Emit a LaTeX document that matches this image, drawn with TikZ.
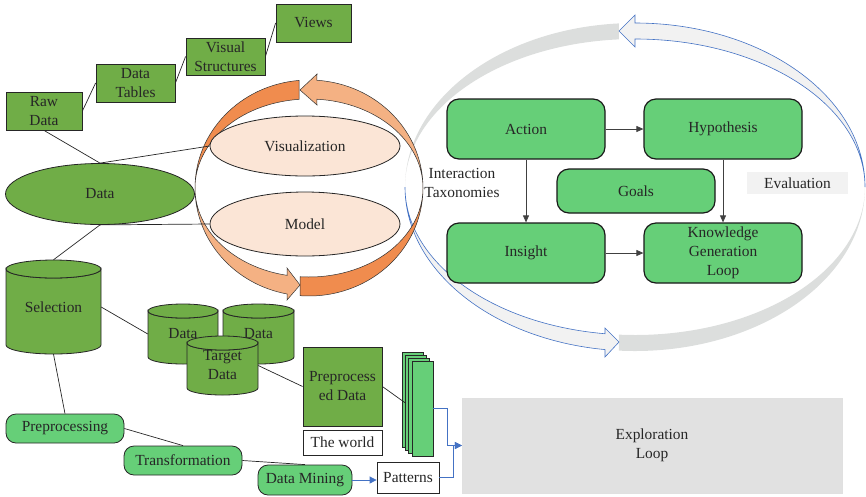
\documentclass[tikz,border=0pt]{standalone}
\usepackage{fontspec}
\setmainfont{Liberation Serif}
\usetikzlibrary{arrows.meta,calc,shapes.geometric}
\definecolor{midgreen}{RGB}{112,173,71}
\definecolor{lgreen}{RGB}{102,207,120}
\definecolor{peach}{RGB}{251,229,214}
\definecolor{odark}{RGB}{240,140,78}
\definecolor{olight}{RGB}{244,177,131}
\definecolor{gdark}{RGB}{220,222,221}
\definecolor{glight}{RGB}{242,242,242}
\definecolor{bline}{RGB}{68,114,196}
\definecolor{explgrey}{RGB}{225,225,225}
\definecolor{txt}{RGB}{38,38,38}
\tikzset{
 lbl/.style={font=\fontsize{15.4}{19}\selectfont, text=txt, align=center, inner sep=0pt},
 gbox/.style={lbl, draw=txt, fill=midgreen, line width=0.8pt},
 rbox/.style={lbl, draw=black!90, fill=lgreen, rounded corners=12pt, line width=1.2pt, minimum width=158pt, minimum height=60pt},
 pill/.style={lbl, draw=black!85, fill=lgreen, rounded corners=10pt, line width=0.8pt, minimum height=29pt},
 conn/.style={draw=black!85, line width=0.7pt},
 flow/.style={draw=black!75, line width=0.8pt, -{Triangle[length=7pt,width=6pt]}},
 bflow/.style={draw=bline, line width=0.8pt, -{Triangle[length=7pt,width=7pt]}},
 cylsty/.style={draw=txt, fill=midgreen, line width=0.8pt},
 stk/.style={draw=black!85, fill=lgreen, line width=0.7pt, minimum width=21pt, minimum height=95pt, inner sep=0pt, anchor=north west},
 oband/.style={draw=black!80, line width=0.5pt},
}
\newcommand\drawcyl[5]{%
 \pgfmathsetmacro\cylcx{(#1+#2)/2}%
 \pgfmathsetmacro\cylrx{(#2-#1)/2}%
 \filldraw[cylsty] (#1,#3+#5) -- (#1,#4-#5) arc[start angle=180,end angle=0,x radius=\cylrx,y radius=#5] -- (#2,#3+#5) arc[start angle=0,end angle=180,x radius=\cylrx,y radius=#5] -- cycle;
 \filldraw[cylsty] (\cylcx,#3+#5) ellipse[x radius=\cylrx, y radius=#5];
}
\begin{document}
\begin{tikzpicture}[x=1pt,y=-1pt]
\useasboundingbox (0,0) rectangle (866,496);

% grey exploration/knowledge loop ribbon
\begin{scope}[shift={(635,187)}]
 \fill[gdark] (-94:230 and 164) arc[start angle=-94,end angle=-180,x radius=230,y radius=164] arc[start angle=-180,end angle=-94,x radius=230,y radius=148] -- cycle;
 \fill[gdark] (94:230 and 164) arc[start angle=94,end angle=0,x radius=230,y radius=164] arc[start angle=0,end angle=94,x radius=230,y radius=148] -- cycle;
 \filldraw[fill=glight, draw=bline, line width=0.6pt] (-90:230 and 164) arc[start angle=-90,end angle=0,x radius=230,y radius=164] arc[start angle=0,end angle=-90,x radius=230,y radius=148] -- (0,-140) -- (-16,-156) -- (0,-172) -- cycle;
 \filldraw[fill=glight, draw=bline, line width=0.6pt] (180:230 and 164) arc[start angle=180,end angle=97.5,x radius=230,y radius=164] -- (-30,170) -- (-16,155) -- (-30,141) -- (97.5:230 and 148) arc[start angle=97.5,end angle=180,x radius=230,y radius=148] -- cycle;
\end{scope}

% orange ring
\begin{scope}[shift={(309,188)}]
 \filldraw[fill=odark, oband] (-95:114 and 108) arc[start angle=-95,end angle=-180,x radius=114,y radius=108] arc[start angle=-180,end angle=-95,x radius=114,y radius=89] -- cycle;
 \filldraw[fill=odark, oband] (94.5:114 and 108) arc[start angle=94.5,end angle=0,x radius=114,y radius=108] arc[start angle=0,end angle=94.5,x radius=114,y radius=89] -- cycle;
 \filldraw[fill=olight, oband] (-86:114 and 108) arc[start angle=-86,end angle=0,x radius=114,y radius=108] arc[start angle=0,end angle=-86,x radius=114,y radius=89] -- (8,-83) -- (-9,-98) -- (8,-114) -- cycle;
 \filldraw[fill=olight, oband] (180:114 and 108) arc[start angle=180,end angle=101,x radius=114,y radius=108] -- (-22,112) -- (-9,97) -- (-22,80) -- (101:114 and 89) arc[start angle=101,end angle=180,x radius=114,y radius=89] -- cycle;
\end{scope}

% top-left chain
\node[gbox, minimum width=76pt, minimum height=38pt] (raw) at (44,111) {Raw\\Data};
\node[gbox, minimum width=79pt, minimum height=38pt] (tables) at (135.5,83) {Data\\Tables};
\node[gbox, minimum width=79pt, minimum height=37pt] (vis) at (225.5,56.5) {Visual\\Structures};
\node[gbox, minimum width=75pt, minimum height=38pt] (views) at (313.5,23) {Views};

\node[lbl, ellipse, draw=txt, fill=midgreen, line width=0.8pt, minimum width=189pt, minimum height=61pt] (data) at (100,194) {Data};
\node[lbl, ellipse, draw=txt, fill=peach, line width=0.8pt, minimum width=190pt, minimum height=60pt] (viz) at (305,146) {Visualization};
\node[lbl, ellipse, draw=txt, fill=peach, line width=0.8pt, minimum width=190pt, minimum height=64pt] (model) at (305,224) {Model};

% cylinders
\drawcyl{6}{101}{260}{354}{9}
\node[lbl, minimum width=95pt, minimum height=94pt] (sel) at (53.5,307) {Selection};
\drawcyl{148}{218}{304}{364}{7}
\node[lbl, minimum width=70pt, minimum height=60pt] (d1) at (183,334) {Data};
\drawcyl{223}{294}{304}{364}{7}
\node[lbl, minimum width=71pt, minimum height=60pt] (d2) at (258.5,334) {Data};
\drawcyl{187}{258}{336}{395}{7}
\node[lbl, minimum width=71pt, minimum height=59pt] (tgt) at (222.5,365.5) {Target\\Data};

\node[gbox, minimum width=79pt, minimum height=79pt] (prep) at (342.5,386.5) {Preprocess\\ed Data};
\node[lbl, draw=txt, fill=white, line width=0.8pt, minimum width=79pt, minimum height=25pt] (world) at (342.5,442.5) {The world};

\node[stk] (s0) at (402,352) {};
\node[stk] (s1) at (405.2,355) {};
\node[stk] (s2) at (408.4,358) {};
\node[stk] (s3) at (411.6,361) {};

\node[pill, minimum width=118pt] (pre) at (65,428.5) {Preprocessing};
\node[pill, minimum width=118pt] (trans) at (183,460.5) {Transformation};
\node[pill, minimum width=94pt, minimum height=30pt] (dm) at (305,480) {Data Mining};
\node[lbl, draw=txt, fill=white, line width=0.8pt, minimum width=62pt, minimum height=31pt] (pat) at (408,477.5) {Patterns};

\node[lbl, draw=black!12, fill=explgrey, minimum width=380pt, minimum height=95pt] (expl) at (652,445.5) {Exploration\\Loop};

% knowledge loop boxes
\node[rbox] (action) at (526,129) {Action};
\node[rbox] (hyp) at (723,129) {Hypothesis};
\node[rbox, minimum height=44pt] (goals) at (636,191) {Goals};
\node[rbox] (insight) at (526,253) {Insight};
\node[rbox] (kgl) at (723,253) {Knowledge\\Generation\\Loop};
\node[lbl, fill=glight, minimum width=101pt, minimum height=22pt] (eval) at (797.5,183) {Evaluation};
\node[lbl] (tax) at (462,183) {Interaction\\Taxonomies};

% connectors
\draw[conn] (raw.east) -- (tables.west);
\draw[conn] (tables.east) -- (vis.west);
\draw[conn] (vis.east) -- (views.west);
\draw[conn] (raw.south) -- (data.north);
\draw[conn] (data.north) -- (viz.west);
\draw[conn] (data.south) -- (model.west);
\draw[conn] (data.south) -- (sel.north);
\draw[conn] (sel.east) -- (d1.west);
\draw[conn] (tgt.east) -- (prep.west);
\draw[conn] (prep.east) -- (s1.west);
\draw[conn] (sel.south) -- (pre.north);
\draw[conn] (pre.east) -- (trans.north);
\draw[conn] (trans.east) -- (dm.north);

\draw[flow] (action.east) -- (hyp.west);
\draw[flow] (action.south) -- (insight.north);
\draw[flow] (hyp.south) -- (kgl.north);
\draw[flow] (insight.east) -- (kgl.west);

\draw[bflow] (dm.east) -- (dm.east -| pat.west);
\draw[bflow] (s3.east) -- ++(14,0) |- (expl.west);
\draw[bflow] (pat.east) -- ++(14,0) |- (expl.west);
\end{tikzpicture}
\end{document}
